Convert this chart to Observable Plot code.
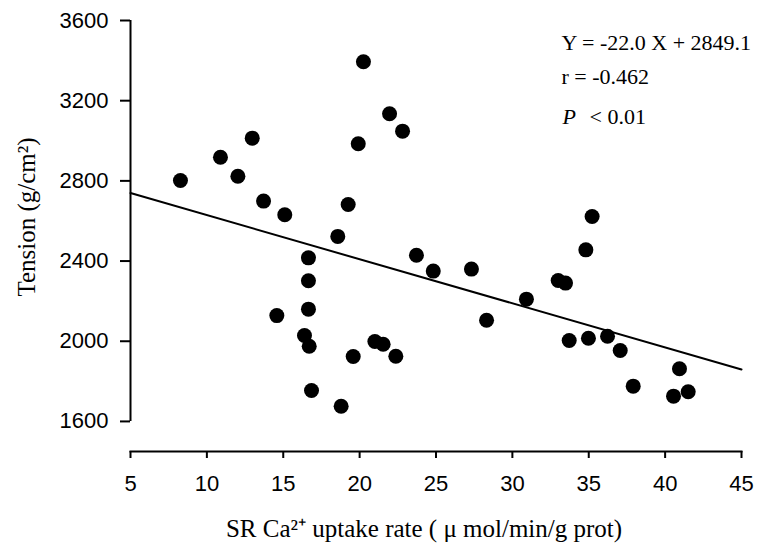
<!DOCTYPE html>
<html>
<head>
<meta charset="utf-8">
<script src="https://cdn.jsdelivr.net/npm/d3@7"></script>
<script src="https://cdn.jsdelivr.net/npm/@observablehq/plot@0.6"></script>
<style>
  html, body { margin: 0; padding: 0; background: #fff; }
  #chart svg { display: block; }
</style>
</head>
<body>
<div id="chart"></div>
<script>
// SR Ca2+ uptake rate (µmol/min/g prot)
const uptake = [8.27, 10.89, 12.03, 12.97, 13.71, 15.10, 14.58, 16.65, 16.65, 16.65,
  16.39, 16.70, 16.85, 18.57, 18.79, 19.25, 19.58, 19.91, 20.25, 21.00,
  21.54, 21.96, 22.37, 22.81, 23.72, 24.82, 27.32, 28.31, 30.92, 33.00,
  33.48, 33.72, 34.81, 35.22, 34.98, 36.23, 37.06, 37.91, 40.94, 40.55, 41.51];
// Tension (g/cm2)
const tension = [2802, 2918, 2823, 3013, 2699, 2631, 2128, 2416, 2302, 2160,
  2029, 1975, 1754, 2523, 1676, 2682, 1924, 2985, 3394, 1999,
  1985, 3135, 1925, 3048, 2429, 2350, 2360, 2105, 2210, 2303,
  2290, 2004, 2456, 2622, 2015, 2025, 1954, 1776, 1863, 1726, 1748];

const slope = -22.0;
const intercept = 2849.1;
const xTicks = [5, 10, 15, 20, 25, 30, 35, 40, 45];
const yTicks = [1600, 2000, 2400, 2800, 3200, 3600];
const eqText = "Y = -22.0 X + 2849.1";
const rText = "r = -0.462";
const pLabel = "P";
const pValue = "< 0.01";
const xTitle = "SR Ca²⁺ uptake rate ( μ mol/min/g prot)";
const yTitle = "Tension (g/cm²)";

const points = uptake.map((x, i) => ({x, y: tension[i]}));
const fitLine = [xTicks[0], xTicks[xTicks.length - 1]].map(x => ({x, y: intercept + slope * x}));

const sans = "Liberation Sans, Arial, sans-serif";
const serif = "Liberation Serif, Times New Roman, serif";

const note = (t, dx, dy, extra = {}) => Plot.text([t], {
  text: d => d, frameAnchor: "top-left", dx, dy,
  fontSize: 22, fontFamily: serif, textAnchor: "start", lineAnchor: "bottom", ...extra
});

const chart = Plot.plot({
  width: 773,
  height: 543,
  marginLeft: 130,
  marginRight: 32,
  marginTop: 20,
  marginBottom: 92,
  style: {background: "#fff", color: "#000", fontSize: "22px", fontFamily: sans},
  x: {domain: [5, 45]},
  y: {domain: [1450, 3600]},
  marks: [
    Plot.axisX({ticks: xTicks, tickFormat: d => String(d), tickSize: 7, tickPadding: 17, label: null, strokeWidth: 2}),
    Plot.axisY({ticks: yTicks, tickFormat: d => String(d), tickSize: 10, tickPadding: 12, label: null, strokeWidth: 2}),
    Plot.frame({anchor: "bottom", strokeWidth: 2}),
    Plot.ruleX([xTicks[0]], {y1: yTicks[0], y2: yTicks[yTicks.length - 1], strokeWidth: 2}),
    Plot.line(fitLine, {x: "x", y: "y", stroke: "#000", strokeWidth: 2}),
    Plot.dot(points, {x: "x", y: "y", r: 7.5, fill: "#000", stroke: "none"}),
    note(eqText, 431, 29),
    note(rText, 431, 63),
    note(pLabel, 432, 103, {fontStyle: "italic"}),
    note(pValue, 459, 103),
    Plot.text([yTitle], {text: d => d, frameAnchor: "left", dx: -104, dy: -19, rotate: -90,
      fontSize: 25, fontFamily: serif, textAnchor: "middle", lineAnchor: "middle"}),
    Plot.text([xTitle], {text: d => d, frameAnchor: "bottom", dx: -12, dy: 85,
      fontSize: 25, fontFamily: serif, textAnchor: "middle", lineAnchor: "bottom"})
  ]
});
document.getElementById("chart").appendChild(chart);
</script>
</body>
</html>
